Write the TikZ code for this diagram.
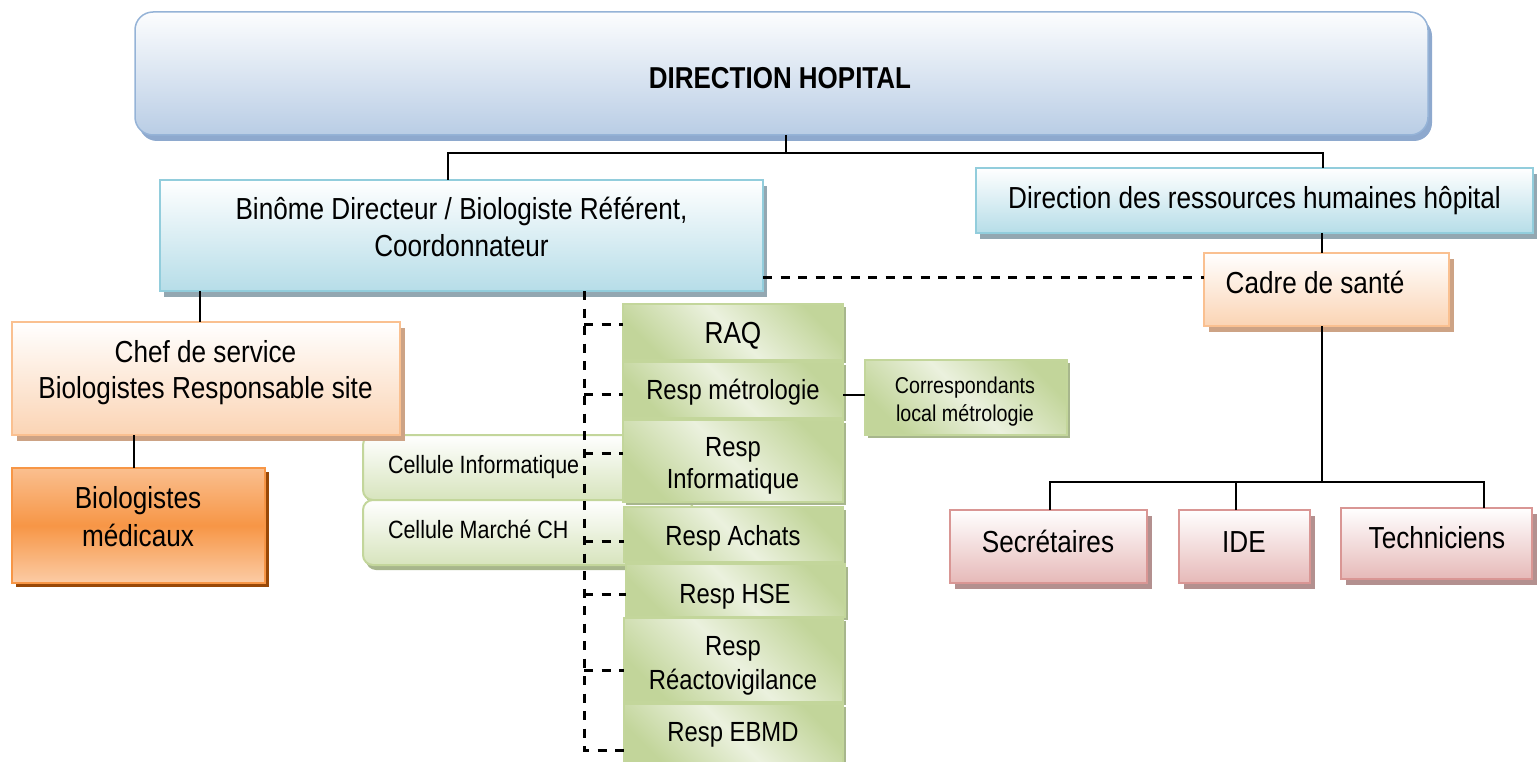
\documentclass[tikz,border=0pt]{standalone}
\usepackage{fontspec}
\setmainfont{Liberation Sans}[FakeStretch=0.86]
\usetikzlibrary{shadows,calc}
\definecolor{topB}{HTML}{95B3D7}
\definecolor{topF}{HTML}{B9CDE5}
\definecolor{topS}{HTML}{8EA9CE}
\definecolor{bluB}{HTML}{92CDDC}
\definecolor{bluF}{HTML}{B6DDE8}
\definecolor{bluS}{HTML}{93A7B1}
\definecolor{orB}{HTML}{FAC090}
\definecolor{orF}{HTML}{FBD4B4}
\definecolor{orS}{HTML}{CDA385}
\definecolor{doB}{HTML}{F79646}
\definecolor{doL}{HTML}{FABF8F}
\definecolor{doS}{HTML}{984807}
\definecolor{pkB}{HTML}{D99694}
\definecolor{pkF}{HTML}{E6B9B8}
\definecolor{pkS}{HTML}{B3908F}
\definecolor{gA}{HTML}{C2D59A}
\definecolor{gL}{HTML}{EBF1DE}
\definecolor{gB}{HTML}{C3D69B}
\definecolor{gS}{HTML}{A7B68C}
\definecolor{cF}{HTML}{D7E4BD}
\begin{document}
\begin{tikzpicture}[x=1pt,y=-1pt,
  box/.style={inner sep=0pt, outer sep=0pt, anchor=north west},
  topbox/.style={box, draw=topB, line width=1.5pt, rounded corners=18pt,
    top color=white!60!topF!10, bottom color=topF,
    drop shadow={shadow xshift=4pt, shadow yshift=-6pt, fill=topS, opacity=1}},
  bluebox/.style={box, draw=bluB, line width=2.5pt, top color=white, bottom color=bluF,
    drop shadow={shadow xshift=4pt, shadow yshift=-6pt, fill=bluS, opacity=1}},
  orbox/.style={box, draw=orB, line width=2.5pt, top color=white, bottom color=orF,
    drop shadow={shadow xshift=5pt, shadow yshift=-6pt, fill=orS, opacity=1}},
  dobox/.style={box, draw=doB, line width=2.5pt, top color=doL, bottom color=doL!80!white, middle color=doB,
    drop shadow={shadow xshift=4pt, shadow yshift=-4pt, fill=doS, opacity=1}},
  pkbox/.style={box, draw=pkB, line width=2.5pt, top color=white, bottom color=pkF,
    drop shadow={shadow xshift=5pt, shadow yshift=-6pt, fill=pkS, opacity=1}},
  grbox/.style={box, draw=gB, line width=2pt, top color=gA, bottom color=gA, middle color=gL, shading angle=-45,
    drop shadow={shadow xshift=3pt, shadow yshift=-3pt, fill=gS, opacity=1}},
  celbox/.style={box, draw=gB, line width=2pt, rounded corners=10pt, top color=white, bottom color=cF,
    drop shadow={shadow xshift=3pt, shadow yshift=-5pt, fill=gS, opacity=1}},
  conn/.style={draw=black, line width=1.8pt},
  dsh/.style={draw=black, line width=3pt, dash pattern=on 9pt off 8.5pt},
  txt/.style={anchor=base, inner sep=0pt, outer sep=0pt, text=black},
  tA/.style={txt, font=\fontsize{30.4}{36}\selectfont},
  tB/.style={txt, font=\fontsize{27.7}{33}\selectfont},
  tC/.style={txt, font=\fontsize{25}{30}\selectfont},
  tD/.style={txt, font=\fontsize{22.9}{27}\selectfont}]
\useasboundingbox (0,0) rectangle (1537,762);

% cells behind the green stack
\node[celbox, minimum width=330pt, minimum height=65pt] (cinfo) at (363,435) {};
\node[celbox, minimum width=330pt, minimum height=65pt] (cmarche) at (363,500) {};
\node[tC, anchor=base west] (cinfot) at (388,473) {Cellule Informatique};
\node[tC, anchor=base west] (cmarchet) at (388,538) {Cellule Marché CH};

% main boxes
\node[topbox, minimum width=1293pt, minimum height=123pt] (top) at (135,12) {};
\node[txt, font=\fontsize{30.2}{36}\selectfont\bfseries] (topt) at (780,89) {DIRECTION HOPITAL};

\node[bluebox, minimum width=603pt, minimum height=111pt] (binome) at (160,180) {};
\node[tA] (binomet1) at (461.5,220) {Binôme Directeur / Biologiste Référent,};
\node[tA] (binomet2) at (461.5,257) {Coordonnateur};

\node[bluebox, minimum width=557pt, minimum height=65pt] (drh) at (976,168) {};
\node[tA] (drht) at (1254.5,209) {Direction des ressources humaines hôpital};

\node[orbox, minimum width=245pt, minimum height=73pt] (cadre) at (1204,253) {};
\node[tA] (cadret) at (1315,293) {Cadre de santé};

\node[orbox, minimum width=388pt, minimum height=113pt] (chef) at (12,322) {};
\node[tA] (cheft1) at (205.5,362) {Chef de service};
\node[tA] (cheft2) at (205.5,398) {Biologistes Responsable site};

\node[dobox, minimum width=253pt, minimum height=115pt] (bio) at (12,468) {};
\node[tA] (biot1) at (138,508) {Biologistes};
\node[tA] (biot2) at (138,546) {médicaux};

% green stack
\node[grbox, minimum width=220pt, minimum height=56pt] (raq) at (623,304) {};
\node[tA] (raqt) at (733,343) {RAQ};
\node[grbox, minimum width=220pt, minimum height=56pt] (metro) at (623,362) {};
\node[tB] (metrot) at (733,399) {Resp métrologie};
\node[grbox, minimum width=220pt, minimum height=82pt] (rinfo) at (623,420) {};
\node[tB] (rinfot1) at (733,456) {Resp};
\node[tB] (rinfot2) at (733,488) {Informatique};
\node[grbox, minimum width=219pt, minimum height=55pt] (achats) at (624,507) {};
\node[tB] (achatst) at (733,545) {Resp Achats};
\node[grbox, minimum width=219pt, minimum height=53pt] (hse) at (626,564) {};
\node[tB] (hset) at (735,603) {Resp HSE};
\node[grbox, minimum width=219pt, minimum height=84pt] (reacto) at (624,618) {};
\node[tB] (reactot1) at (733,655) {Resp};
\node[tB] (reactot2) at (733,689) {Réactovigilance};
\node[grbox, minimum width=219pt, minimum height=62pt] (ebmd) at (624,704) {};
\node[tB] (ebmdt) at (733,741) {Resp EBMD};

\node[grbox, minimum width=202pt, minimum height=75pt] (corr) at (865,360) {};
\node[tD] (corrt1) at (965,393) {Correspondants};
\node[tD] (corrt2) at (965,421) {local métrologie};

% staff
\node[pkbox, minimum width=197pt, minimum height=73pt] (secr) at (950,510) {};
\node[tA] (secrt) at (1048,552) {Secrétaires};
\node[pkbox, minimum width=131pt, minimum height=73pt] (ide) at (1179,510) {};
\node[tA] (idet) at (1244,552) {IDE};
\node[pkbox, minimum width=191pt, minimum height=71pt] (tech) at (1341,508) {};
\node[tA] (techt) at (1437,548) {Techniciens};

% coordinates for connector columns / rows
\coordinate (jtop) at (786,153);
\coordinate (xa) at (448,0);
\coordinate (xb) at (1323,0);
\coordinate (xc) at (200,0);
\coordinate (xbio) at (134,0);
\coordinate (jb) at (1322,482);
\coordinate (xs) at (1050,0);
\coordinate (xi) at (1236,0);
\coordinate (xt) at (1484,0);
\coordinate (ym) at (0,395);
\coordinate (yd) at (0,277);
\coordinate (dx) at (584,0);
\coordinate (yR) at (0,324);
\coordinate (yM) at (0,394);
\coordinate (yI) at (0,453);
\coordinate (yA) at (0,541);
\coordinate (yH) at (0,594);
\coordinate (yV) at (0,670);
\coordinate (yE) at (0,750);

% solid connectors
\draw[conn] (top.south -| jtop) -- (jtop);
\draw[conn] (binome.north -| xa) |- (jtop) -| (drh.north -| xb);
\draw[conn] (binome.south -| xc) -- (chef.north -| xc);
\draw[conn] (chef.south -| xbio) -- (bio.north -| xbio);
\draw[conn] (drh.south -| jb) -- (cadre.north -| jb);
\draw[conn] (cadre.south -| jb) -- (jb);
\draw[conn] (secr.north -| xs) |- (jb) -| (tech.north -| xt);
\draw[conn] (ide.north -| xi) -- (xi |- jb);
\draw[conn] (metro.east |- ym) -- (corr.west |- ym);

% dashed connectors
\draw[dsh] (binome.east |- yd) -- (cadre.west |- yd);
\draw[dsh] (binome.south -| dx) |- (ebmd.west |- yE);
\draw[dsh] (dx |- yR) -- (raq.west |- yR);
\draw[dsh] (dx |- yM) -- (metro.west |- yM);
\draw[dsh] (dx |- yI) -- (rinfo.west |- yI);
\draw[dsh] (dx |- yA) -- (achats.west |- yA);
\draw[dsh] (dx |- yH) -- (hse.west |- yH);
\draw[dsh] (dx |- yV) -- (reacto.west |- yV);
\end{tikzpicture}
\end{document}
